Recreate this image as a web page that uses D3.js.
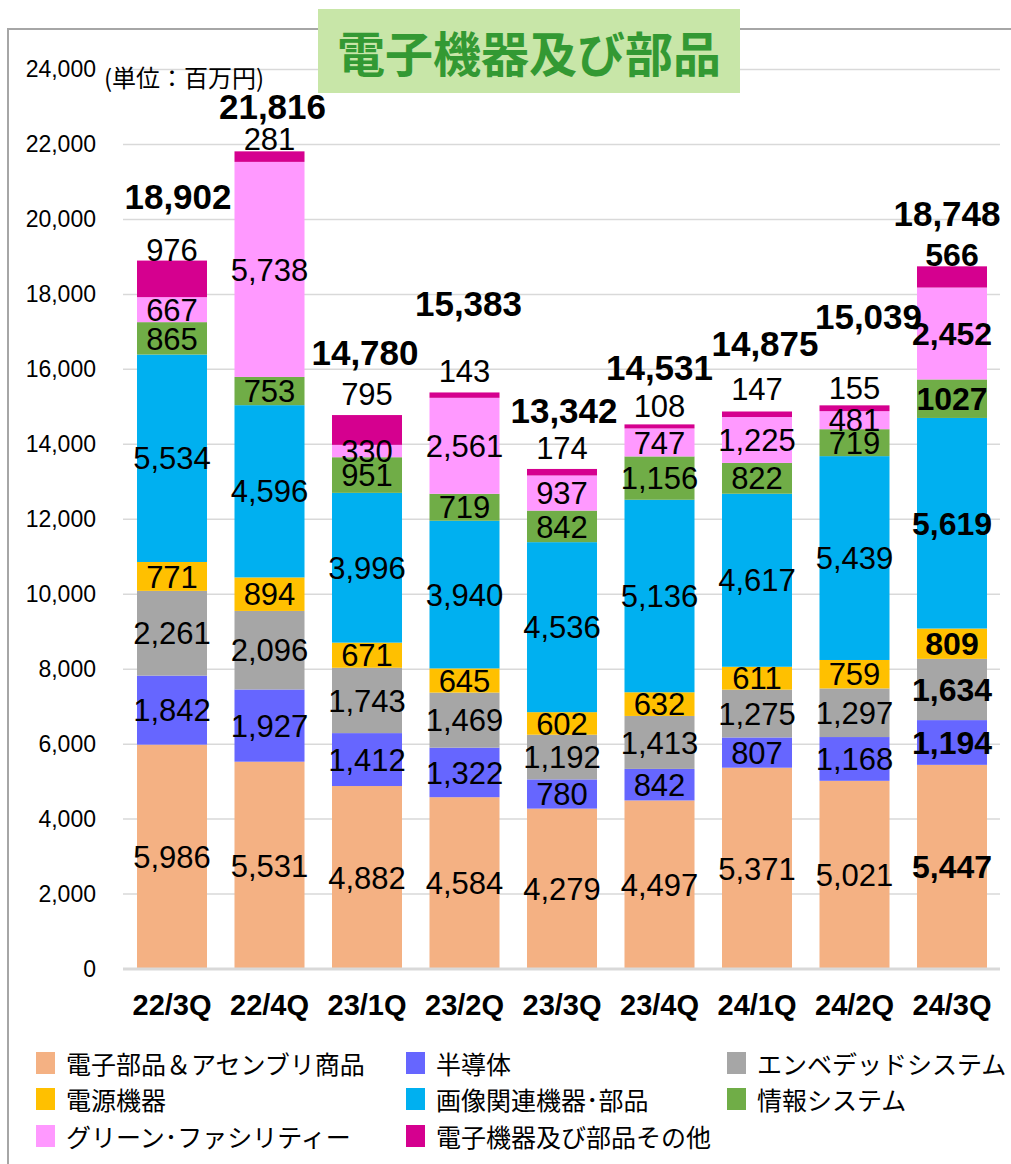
<!DOCTYPE html>
<html>
<head>
<meta charset="utf-8">
<title>電子機器及び部品</title>
<script src="https://d3js.org/d3.v7.min.js"></script>
<style>
body { margin: 0; background: #fff; }
text { font-family: "Liberation Sans", Arial, sans-serif; fill: #000; }
.jp { font-family: "Noto Sans CJK JP", sans-serif; }
.grid line { stroke: #d9d9d9; stroke-width: 1.5; }
</style>
</head>
<body>
<svg id="chart" width="1011" height="1164"></svg>
<script>
// quarters on the x axis
var quarters = ["22/3Q", "22/4Q", "23/1Q", "23/2Q", "23/3Q", "23/4Q", "24/1Q", "24/2Q", "24/3Q"];

// one array per segment, bottom to top (百万円)
var denshiBuhin = [5986, 5531, 4882, 4584, 4279, 4497, 5371, 5021, 5447];
var handoutai   = [1842, 1927, 1412, 1322,  780,  842,  807, 1168, 1194];
var embedded    = [2261, 2096, 1743, 1469, 1192, 1413, 1275, 1297, 1634];
var dengen      = [ 771,  894,  671,  645,  602,  632,  611,  759,  809];
var gazou       = [5534, 4596, 3996, 3940, 4536, 5136, 4617, 5439, 5619];
var jouhou      = [ 865,  753,  951,  719,  842, 1156,  822,  719, 1027];
var green       = [ 667, 5738,  330, 2561,  937,  747, 1225,  481, 2452];
var sonota      = [ 976,  281,  795,  143,  174,  108,  147,  155,  566];

var seriesNames = ["電子部品＆アセンブリ商品", "半導体", "エンベデッドシステム", "電源機器",
                   "画像関連機器･部品", "情報システム", "グリーン･ファシリティー", "電子機器及び部品その他"];
var seriesColors = ["#f4b183", "#6666ff", "#a6a6a6", "#ffc000", "#00b0f0", "#70ad47", "#ff99ff", "#d5008f"];
var yTicks = [0, 2000, 4000, 6000, 8000, 10000, 12000, 14000, 16000, 18000, 20000, 22000, 24000];

// label nudges (px) copied from the original layout
var totalLift  = [52, 32, 50, 76, 46, 44, 55, 76, 40];
var totalShift = [6, 3, -2, 4, 2, 0, 8, 14, -5];
var topLift    = [0, 1, 10, 10, 10, 7, 11, 6, 0];
var boldQuarter = 8;
var plainLabels = [[8, 5]]; // shown without thousands separator

var seriesValues = [denshiBuhin, handoutai, embedded, dengen, gazou, jouhou, green, sonota];

var svg = d3.select("#chart");
var W = 1011, H = 1164;
svg.append("rect").attr("width", W).attr("height", H).attr("fill", "#fff");

// frame
svg.append("path").attr("d", "M8," + H + "V29H" + W)
  .attr("fill", "none").attr("stroke", "#a6a6a6").attr("stroke-width", 2);

var x = d3.scaleBand().domain(quarters).range([123.25, 1000.75])
  .paddingInner(0.282).paddingOuter(0.141);
var y = d3.scaleLinear().domain([0, 24000]).range([969, 69.5]);

// grid
var grid = svg.append("g").attr("class", "grid");
grid.selectAll("line").data(yTicks.slice(1)).enter().append("line")
  .attr("x1", 123).attr("x2", 1000)
  .attr("y1", function (d) { return y(d); }).attr("y2", function (d) { return y(d); });

// y axis labels
var yAxis = svg.append("g").attr("transform", "translate(96,0)")
  .call(d3.axisLeft(y).tickValues(yTicks).tickFormat(d3.format(",")).tickSize(0).tickPadding(0));
yAxis.select(".domain").remove();
yAxis.selectAll("text").style("font-size", "23px").attr("fill", "#000")
  .style("font-family", "'Liberation Sans', Arial, sans-serif");

// stacked data
var table = quarters.map(function (q, i) {
  var row = { quarter: q, i: i };
  seriesValues.forEach(function (s, k) { row["s" + k] = s[i]; });
  return row;
});
var keys = seriesValues.map(function (s, k) { return "s" + k; });
var stacked = d3.stack().keys(keys)(table);

var layers = svg.append("g").selectAll("g").data(stacked).enter().append("g")
  .attr("fill", function (d, k) { return seriesColors[k]; });
layers.selectAll("rect").data(function (d) { return d; }).enter().append("rect")
  .attr("x", function (d) { return x(d.data.quarter); })
  .attr("width", x.bandwidth())
  .attr("y", function (d) { return y(d[1]); })
  .attr("height", function (d) { return y(d[0]) - y(d[1]); });

// baseline
svg.append("line").attr("x1", 123).attr("x2", 1000).attr("y1", y(0)).attr("y2", y(0))
  .attr("stroke", "#d9d9d9").attr("stroke-width", 3);

function fmt(v, i, k) {
  var plain = plainLabels.some(function (p) { return p[0] === i && p[1] === k; });
  return plain ? String(v) : d3.format(",")(v);
}

// segment labels
var labels = svg.append("g");
stacked.forEach(function (layer, k) {
  layer.forEach(function (d, i) {
    var cx = x(d.data.quarter) + x.bandwidth() / 2;
    var t = labels.append("text")
      .attr("x", cx)
      .attr("text-anchor", "middle")
      .style("font-size", i === boldQuarter ? "32px" : "31px")
      .style("font-weight", i === boldQuarter ? "bold" : "normal")
      .text(fmt(seriesValues[k][i], i, k));
    if (k === stacked.length - 1) {
      t.attr("y", y(d[1]) - topLift[i]);
    } else {
      t.attr("y", (y(d[0]) + y(d[1])) / 2).attr("dy", "0.36em");
    }
  });
});

// totals
quarters.forEach(function (q, i) {
  var total = d3.sum(seriesValues, function (s) { return s[i]; });
  svg.append("text")
    .attr("x", x(q) + x.bandwidth() / 2 + totalShift[i])
    .attr("y", y(total) - totalLift[i])
    .attr("text-anchor", "middle")
    .style("font-size", "35px").style("font-weight", "bold")
    .text(d3.format(",")(total));
});

// x axis labels
svg.append("g").selectAll("text").data(quarters).enter().append("text")
  .attr("x", function (d) { return x(d) + x.bandwidth() / 2; })
  .attr("y", 1015)
  .attr("text-anchor", "middle")
  .style("font-size", "29px").style("font-weight", "bold")
  .text(function (d) { return d; });

// unit
svg.append("text").attr("class", "jp").attr("x", 104).attr("y", 87)
  .style("font-size", "24px").text("(単位：百万円)");

// title box
svg.append("rect").attr("x", 318).attr("y", 9).attr("width", 422).attr("height", 84)
  .attr("fill", "#c8e6a8");
svg.append("text").attr("class", "jp").attr("x", 529).attr("y", 51)
  .attr("text-anchor", "middle").attr("dominant-baseline", "central")
  .style("font-size", "48px").style("font-weight", "bold").style("fill", "#339933")
  .text("電子機器及び部品");

// legend
var legendCols = [36, 406, 727];
var legendRows = [1063, 1099, 1136];
var legend = svg.append("g").selectAll("g").data(seriesNames).enter().append("g")
  .attr("transform", function (d, k) {
    return "translate(" + legendCols[k % 3] + "," + legendRows[Math.floor(k / 3)] + ")";
  });
legend.append("rect").attr("x", 0).attr("y", -11).attr("width", 19).attr("height", 22)
  .attr("fill", function (d, k) { return seriesColors[k]; });
legend.append("text").attr("class", "jp").attr("x", 30).attr("y", 0)
  .attr("dominant-baseline", "central")
  .style("font-size", "25px")
  .text(function (d) { return d; });
</script>
</body>
</html>
